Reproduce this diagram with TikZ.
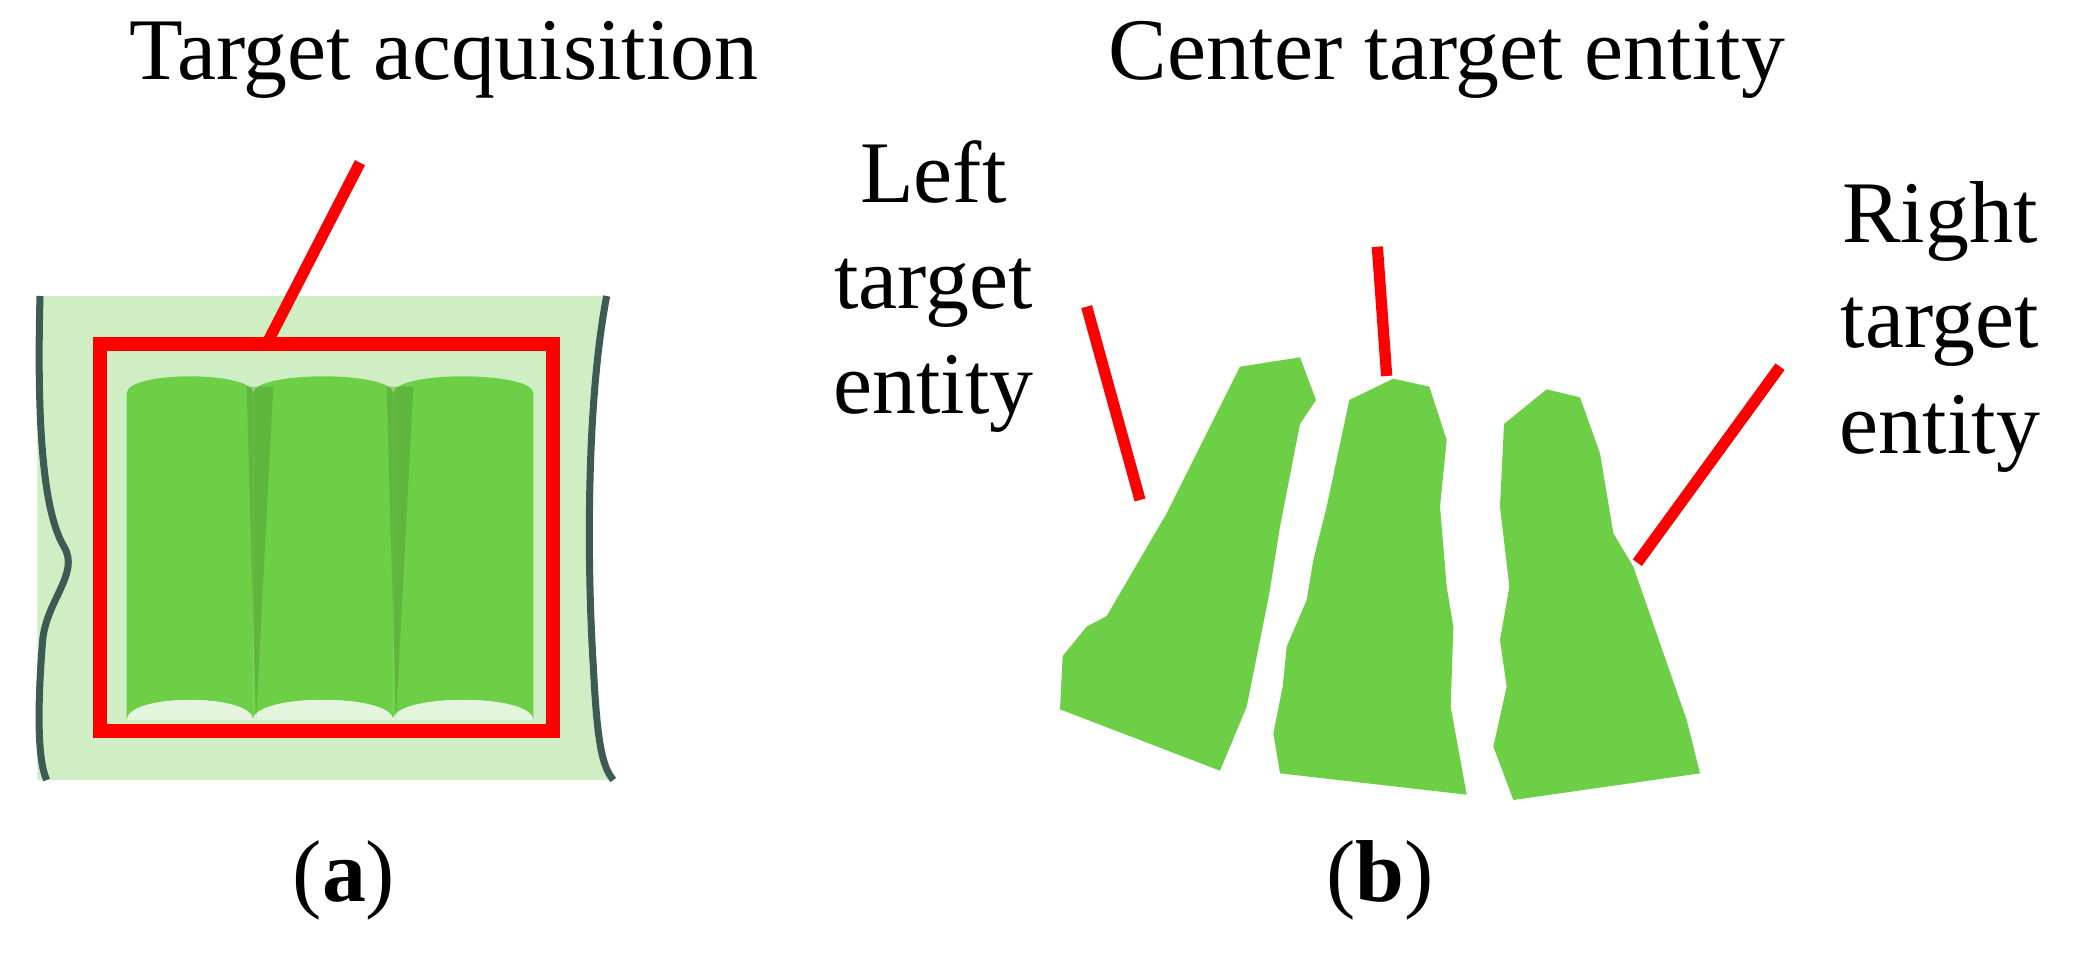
\documentclass[tikz,border=0pt]{standalone}
\usepackage{fontspec}
\setmainfont{Liberation Serif}
\begin{document}
\begin{tikzpicture}[x=0.013333cm,y=-0.013333cm,
 lbl/.style={font=\fontsize{25pt}{30pt}\selectfont,align=center,inner sep=0},
 redl/.style={draw=red,line width=3.2pt},
 ent/.style={fill=ent}]
\definecolor{ent}{HTML}{6CCF45}
\definecolor{pale}{HTML}{D0EEC4}
\definecolor{edge}{HTML}{3E5A55}
\useasboundingbox (0,0) rectangle (1567.5,720.75);
% panel a
\fill[pale] (28,222) -- (455,222) .. controls (440,300) and (440,420) .. (445,500) .. controls (448,560) and (452,575) .. (460,585) -- (28,585) -- cycle;
\draw[edge,line width=2pt] (30,222) .. controls (28,300) and (30,380) .. (48,410) .. controls (60,430) and (35,450) .. (32,480) .. controls (28,530) and (28,570) .. (35,585);
\draw[edge,line width=2pt] (455,222) .. controls (440,300) and (440,420) .. (445,500) .. controls (448,560) and (452,575) .. (460,585);
\foreach \a/\b in {95/190,190/295,295/400}{
 \fill[ent] (\a,295) .. controls (\a,278) and (\b,278) .. (\b,295) -- (\b,540) .. controls (\b,520) and (\a,520) .. (\a,540) -- cycle;
 \fill[pale!60!white] (\a,540) .. controls (\a,520) and (\b,520) .. (\b,540) -- cycle;}
\fill[ent!70!black,opacity=0.4] (185,290) -- (205,290) -- (192,540) -- cycle;
\fill[ent!70!black,opacity=0.4] (290,290) -- (310,290) -- (297,540) -- cycle;
\draw[red,line width=4pt] (75,258) rectangle (415,548);
\coordinate (boxtop) at (200,258);
\node[lbl] (ta) at (333,45) {Target acquisition};
\draw[redl] (boxtop) -- (270,122);
% panel b
\fill[ent] (930,275) -- (975,268) -- (987,300) -- (975,318) -- (960,395) -- (952,445) -- (935,530) -- (915,578) -- (795,532) -- (797,492) -- (815,470) -- (830,462) -- (875,385) -- cycle;
\fill[ent] (1012,300) -- (1045,284) -- (1072,290) -- (1085,330) -- (1080,380) -- (1085,440) -- (1090,470) -- (1088,530) -- (1100,596) -- (960,580) -- (955,550) -- (962,515) -- (965,485) -- (980,450) -- (985,420) -- (995,380) -- cycle;
\fill[ent] (1128,318) -- (1160,292) -- (1185,298) -- (1200,340) -- (1210,400) -- (1225,425) -- (1265,540) -- (1275,580) -- (1135,600) -- (1120,560) -- (1130,515) -- (1125,480) -- (1132,440) -- (1125,380) -- cycle;
\node[lbl] (ce) at (1085,45) {Center target entity};
\node[lbl] (le) at (700,215) {Left\\target\\entity};
\node[lbl] (re) at (1455,245) {Right\\target\\entity};
\coordinate (l1) at (815,230); \coordinate (l2) at (855,375);
\coordinate (c1) at (1033,185); \coordinate (c2) at (1040,282);
\coordinate (r1) at (1335,275); \coordinate (r2) at (1228,422);
\draw[redl] (l1) -- (l2); \draw[redl] (c1) -- (c2); \draw[redl] (r1) -- (r2);
\node[lbl] (ca) at (258,660) {(\textbf{a})};
\node[lbl] (cb) at (1035,660) {(\textbf{b})};
\end{tikzpicture}
\end{document}
